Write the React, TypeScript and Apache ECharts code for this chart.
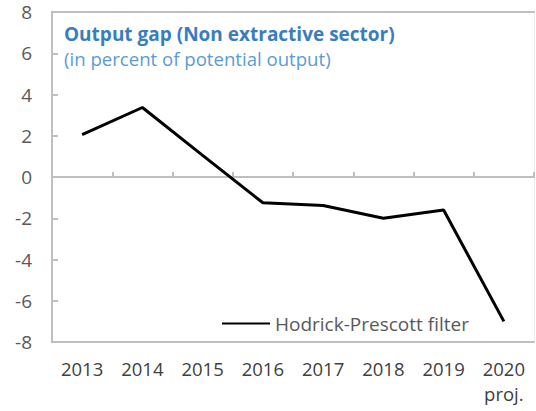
import React, { useEffect, useRef } from "react";
import * as echarts from "echarts";

const years = ["2013", "2014", "2015", "2016", "2017", "2018", "2019", "2020"];
const yearLabels = ["2013", "2014", "2015", "2016", "2017", "2018", "2019", "2020\nproj."];
const hpFilter = [2.05, 3.37, 1.05, -1.25, -1.38, -2.0, -1.6, -7.0];
const seriesName = "Hodrick-Prescott filter";
const titleText = "Output gap (Non extractive sector)";
const subtitleText = "(in percent of potential output)";

const FONT = "'Open Sans', 'Noto Sans', sans-serif";

export default function App() {
  const ref = useRef<HTMLDivElement>(null);
  useEffect(() => {
    const chart = echarts.init(ref.current!, undefined, { renderer: "svg" });
    const frame = "#bfbfbf";
    chart.setOption({
      animation: false,
      textStyle: { fontFamily: FONT },
      grid: { left: 52, top: 12, right: 2, bottom: 69, containLabel: false },
      title: {
        text: titleText,
        subtext: subtitleText,
        left: 64,
        top: 24,
        itemGap: 6,
        textStyle: { fontFamily: FONT, fontSize: 19, fontWeight: "bold", color: "#3a7dbd" },
        subtextStyle: { fontFamily: FONT, fontSize: 18.6, color: "#5b9bd5" },
        padding: 0,
      },
      legend: {
        left: 222,
        top: 314,
        padding: 0,
        itemWidth: 48,
        itemHeight: 12,
        icon: "path://M0,5 L48,5 L48,7 L0,7 Z",
        itemGap: 6,
        textStyle: { fontFamily: FONT, fontSize: 19, color: "#595959" },
        data: [{ name: seriesName, itemStyle: { color: "#000" } }],
      },
      xAxis: [
        {
          type: "category",
          data: years,
          position: "bottom",
          axisLine: { onZero: false, show: true, lineStyle: { color: frame, width: 2 } },
          axisTick: { show: false },
          axisLabel: {
            color: "#404040",
            fontSize: 18.5,
            fontFamily: FONT,
            margin: 14,
            lineHeight: 25,
            formatter: (_v: string, i: number) => yearLabels[i],
          },
        },
        {
          type: "category",
          data: years,
          position: "bottom",
          axisLine: { onZero: true, show: true, lineStyle: { color: frame, width: 2 } },
          axisTick: { show: true, inside: true, length: 5, lineStyle: { color: frame, width: 2 } },
          axisLabel: { show: false },
        },
        {
          type: "category",
          data: years,
          position: "top",
          axisLine: { onZero: false, show: true, lineStyle: { color: frame, width: 2 } },
          axisTick: { show: false },
          axisLabel: { show: false },
        },
      ],
      yAxis: [
        {
          type: "value",
          min: -8,
          max: 8,
          interval: 2,
          axisLine: { show: true, lineStyle: { color: frame, width: 2 } },
          axisTick: { show: true, inside: true, length: 6, lineStyle: { color: frame, width: 2 } },
          splitLine: { show: false },
          axisLabel: { color: "#595959", fontSize: 19, fontFamily: FONT, margin: 20 },
        },
        {
          type: "value",
          min: -8,
          max: 8,
          interval: 2,
          position: "right",
          axisLine: { show: true, lineStyle: { color: "#ececec", width: 1 } },
          axisTick: { show: false },
          splitLine: { show: false },
          axisLabel: { show: false },
        },
      ],
      series: [
        {
          name: seriesName,
          type: "line",
          data: hpFilter,
          xAxisIndex: 0,
          yAxisIndex: 0,
          symbol: "none",
          lineStyle: { color: "#000", width: 3 },
          itemStyle: { color: "#000" },
        },
      ],
    });
    return () => chart.dispose();
  }, []);
  return <div ref={ref} style={{ width: 536, height: 411, position: "absolute", left: 0, top: 0 }} />;
}
